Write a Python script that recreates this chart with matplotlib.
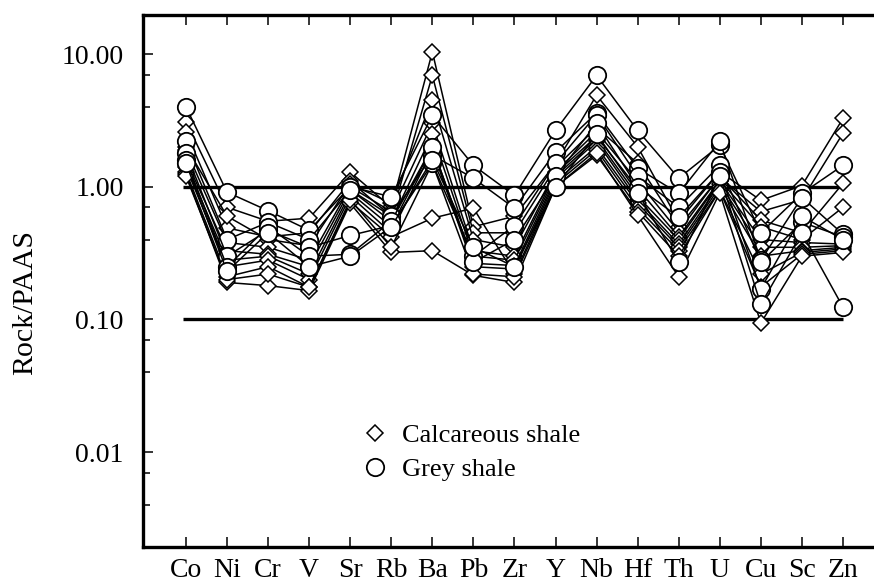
import matplotlib
matplotlib.use('Agg')
import matplotlib.pyplot as plt
from matplotlib.lines import Line2D
from matplotlib.ticker import FixedLocator, NullFormatter

plt.rcParams['font.family'] = ['Liberation Serif', 'DejaVu Serif']

elements = ['Co', 'Ni', 'Cr', 'V', 'Sr', 'Rb', 'Ba', 'Pb', 'Zr',
            'Y', 'Nb', 'Hf', 'Th', 'U', 'Cu', 'Sc', 'Zn']

# calcareous shale samples (diamonds), Rock/PAAS
calcareous = [
    [3.1, 0.70, 0.55, 0.58, 1.29, 0.70, 10.4, 0.50, 0.60, 1.50, 4.9, 2.00, 0.55, 1.30, 0.79, 1.02, 3.27],
    [2.6, 0.49, 0.42, 0.45, 1.10, 0.60, 6.9, 0.45, 0.45, 1.40, 2.8, 1.50, 0.50, 1.18, 0.65, 0.80, 2.53],
    [2.0, 0.60, 0.40, 0.36, 1.05, 0.75, 4.5, 0.40, 0.35, 1.30, 2.6, 1.10, 0.46, 1.20, 0.56, 0.45, 1.06],
    [1.9, 0.38, 0.35, 0.28, 1.00, 0.65, 3.0, 0.33, 0.30, 1.26, 2.4, 0.97, 0.42, 1.12, 0.50, 0.40, 0.70],
    [1.6, 0.33, 0.31, 0.25, 0.95, 0.55, 2.5, 0.30, 0.28, 1.20, 2.3, 0.85, 0.40, 1.10, 0.40, 0.38, 0.37],
    [1.5, 0.28, 0.30, 0.22, 0.90, 0.50, 2.0, 0.265, 0.255, 1.15, 2.2, 0.79, 0.37, 1.05, 0.35, 0.35, 0.36],
    [1.4, 0.25, 0.28, 0.20, 0.85, 0.45, 1.9, 0.25, 0.24, 1.10, 2.0, 0.75, 0.35, 1.00, 0.30, 0.33, 0.35],
    [1.3, 0.21, 0.25, 0.175, 0.77, 0.42, 0.58, 0.69, 0.22, 1.05, 1.9, 0.69, 0.33, 0.95, 0.22, 0.32, 0.34],
    [1.25, 0.19, 0.18, 0.165, 0.75, 0.32, 0.33, 0.215, 0.19, 1.00, 1.73, 0.65, 0.30, 0.94, 0.176, 0.31, 0.33],
    [1.2, 0.20, 0.22, 0.175, 0.80, 0.35, 1.5, 0.22, 0.21, 1.00, 1.8, 0.61, 0.21, 0.90, 0.094, 0.30, 0.32],
]

# grey shale samples (circles), Rock/PAAS
grey = [
    [4.0, 0.91, 0.66, 0.47, 1.00, 0.84, 3.46, 1.45, 0.86, 2.66, 6.9, 2.66, 1.16, 2.05, 0.45, 0.89, 1.45],
    [2.2, 0.40, 0.54, 0.40, 0.95, 0.60, 1.73, 1.16, 0.69, 1.83, 3.6, 1.38, 0.89, 2.20, 0.28, 0.83, 0.44],
    [1.8, 0.30, 0.47, 0.35, 0.43, 0.51, 1.50, 0.30, 0.51, 1.50, 3.5, 1.20, 0.70, 1.45, 0.27, 0.54, 0.42],
    [1.6, 0.25, 0.50, 0.30, 0.31, 0.55, 2.00, 0.27, 0.40, 1.20, 3.0, 1.00, 0.59, 1.30, 0.17, 0.60, 0.40],
    [1.5, 0.23, 0.45, 0.25, 0.30, 0.50, 1.60, 0.35, 0.25, 1.00, 2.5, 0.90, 0.27, 1.20, 0.13, 0.45, 0.124],
]

ref_levels = [1.0, 0.1]
major_ticks = [0.01, 0.1, 1.0, 10.0]
minor_ticks = [0.004, 0.007, 0.04, 0.07, 0.4, 0.7, 4.0, 7.0]

W, H = 874, 586
fig = plt.figure(figsize=(W / 100, H / 100), dpi=100)
left, right, top, bottom = 143, 880, 15, 546.7
ax = fig.add_axes([left / W, 1 - bottom / H, (right - left) / W, (bottom - top) / H])

x = list(range(len(elements)))
fs = 19

for lev in ref_levels:
    ax.hlines(lev, -0.08, len(elements) - 1, colors='black', linewidth=2.4, zorder=1)

for row in calcareous:
    ax.plot(x, row, color='black', linewidth=1.1, marker='D', markersize=8,
            markerfacecolor='white', markeredgecolor='black', markeredgewidth=1.1, zorder=2)
for row in grey:
    ax.plot(x, row, color='black', linewidth=1.1, marker='o', markersize=12.5,
            markerfacecolor='white', markeredgecolor='black', markeredgewidth=1.3, zorder=3)

ax.set_yscale('log')
ax.set_ylim(0.00194, 19.7)
ax.set_xlim(-1.047, (right - 186) / 41.06)

ax.yaxis.set_major_locator(FixedLocator(major_ticks))
ax.yaxis.set_minor_locator(FixedLocator(minor_ticks))
ax.yaxis.set_minor_formatter(NullFormatter())
ax.set_yticklabels(['%.2f' % v for v in major_ticks])
ax.set_xticks(x)
ax.set_xticklabels(elements)

ax.tick_params(axis='y', which='major', direction='in', length=7, width=1.1,
               labelsize=20, pad=14, right=False)
ax.tick_params(axis='y', which='minor', direction='in', length=5, width=1.1, right=False)
ax.tick_params(axis='x', which='major', direction='in', length=7, width=1.1,
               labelsize=20, pad=8, top=True)

for side in ['left', 'bottom', 'top']:
    ax.spines[side].set_linewidth(2.4)
ax.spines['right'].set_visible(False)

ax.set_ylabel('Rock/PAAS', fontsize=21.5)
ax.yaxis.set_label_coords(-0.142, 0.46)

handles = [
    Line2D([], [], linestyle='none', marker='D', markersize=8, markerfacecolor='white',
           markeredgecolor='black', markeredgewidth=1.1),
    Line2D([], [], linestyle='none', marker='o', markersize=12.5, markerfacecolor='white',
           markeredgecolor='black', markeredgewidth=1.3),
]
ax.legend(handles, ['Calcareous shale', 'Grey shale'], loc='center left',
          bbox_to_anchor=(0.2965, 0.177), frameon=False, fontsize=fs,
          handlelength=1.0, handletextpad=0.55, labelspacing=0.4, borderpad=0,
          borderaxespad=0)

fig.savefig('out.png', dpi=100)
